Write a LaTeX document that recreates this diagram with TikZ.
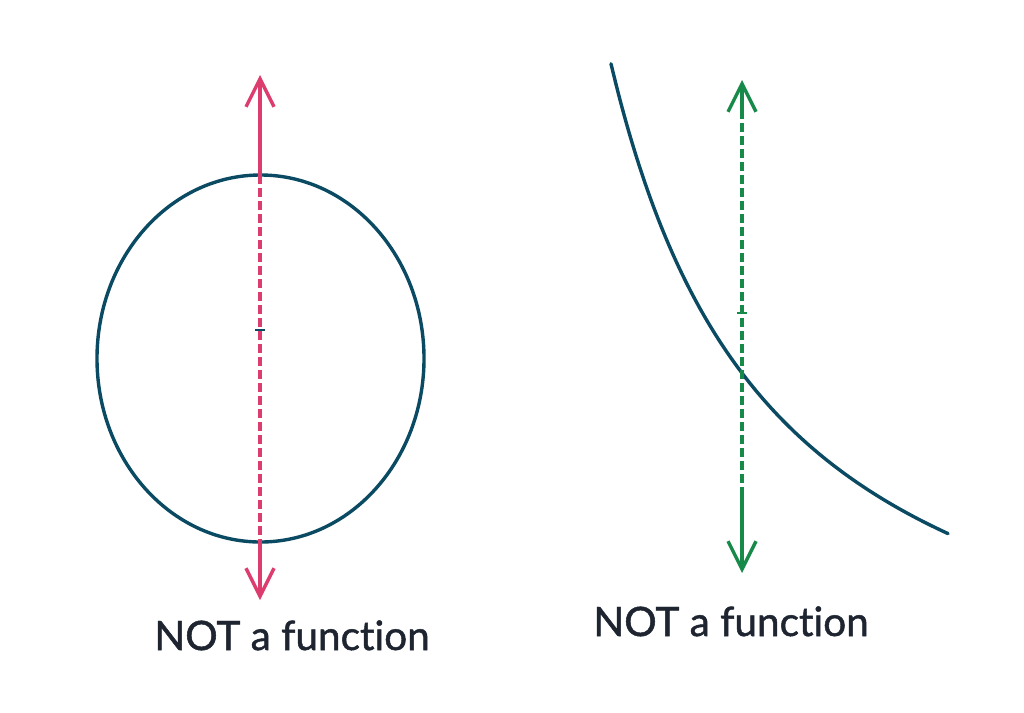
\documentclass[tikz,border=0pt]{standalone}
\usepackage{fontspec}
\setmainfont{Lato}[Ligatures={NoCommon},FakeBold=1.2]
\usetikzlibrary{arrows.meta}
\definecolor{curveblue}{HTML}{0B4A63}
\definecolor{pinkline}{HTML}{DC3C6E}
\definecolor{greenline}{HTML}{178A4A}
\definecolor{labeltext}{HTML}{1E2530}
\begin{document}
\begin{tikzpicture}[x=1pt,y=-1pt,
  curve/.style={draw=curveblue,line width=3.4pt},
  vline/.style={line width=3.4pt},
  dashpart/.style={vline,dash pattern=on 9pt off 4pt},
  head/.style={-{Straight Barb[length=28pt,width=28pt,line width=3.4pt]}},
  label/.style={font=\fontsize{40.5}{44}\selectfont,text=labeltext,inner sep=0pt,anchor=base}]
\useasboundingbox (0,0) rectangle (1024,712);
\fill[white] (0,0) rectangle (1024,712);
% left: ellipse
\draw[curve] (260.5,358.5) ellipse [x radius=163.5, y radius=183.5];
\coordinate (ltop) at (260,75);
\coordinate (lin1) at (260,175);
\coordinate (lin2) at (260,542);
\coordinate (lbot) at (260,600);
\draw[pinkline,dashpart] (lin1) -- (lin2);
\draw[pinkline,vline,head] (lin1) -- (ltop);
\draw[pinkline,vline,head] (lin2) -- (lbot);
\draw[curveblue,line width=1.2pt] (255,330) -- (265,330);
\node[label] (l1) at (292,650) {NOT a function};
% right: decreasing curve
\draw[curve,line cap=round] plot[domain=611:948,samples=120,smooth] (\x,{765-1164/((\x-445)/100)});
\coordinate (rtop) at (742,80);
\coordinate (rs) at (742,110);
\coordinate (rd) at (742,492);
\coordinate (rbot) at (742,573);
\draw[greenline,dashpart] (rs) -- (rd);
\draw[greenline,vline,head] (rs) -- (rtop);
\draw[greenline,vline,head] (rd) -- (rbot);
\draw[greenline,line width=1.4pt] (737,313) -- (747,313);
\node[label] (l2) at (731,636) {NOT a function};
\end{tikzpicture}
\end{document}
